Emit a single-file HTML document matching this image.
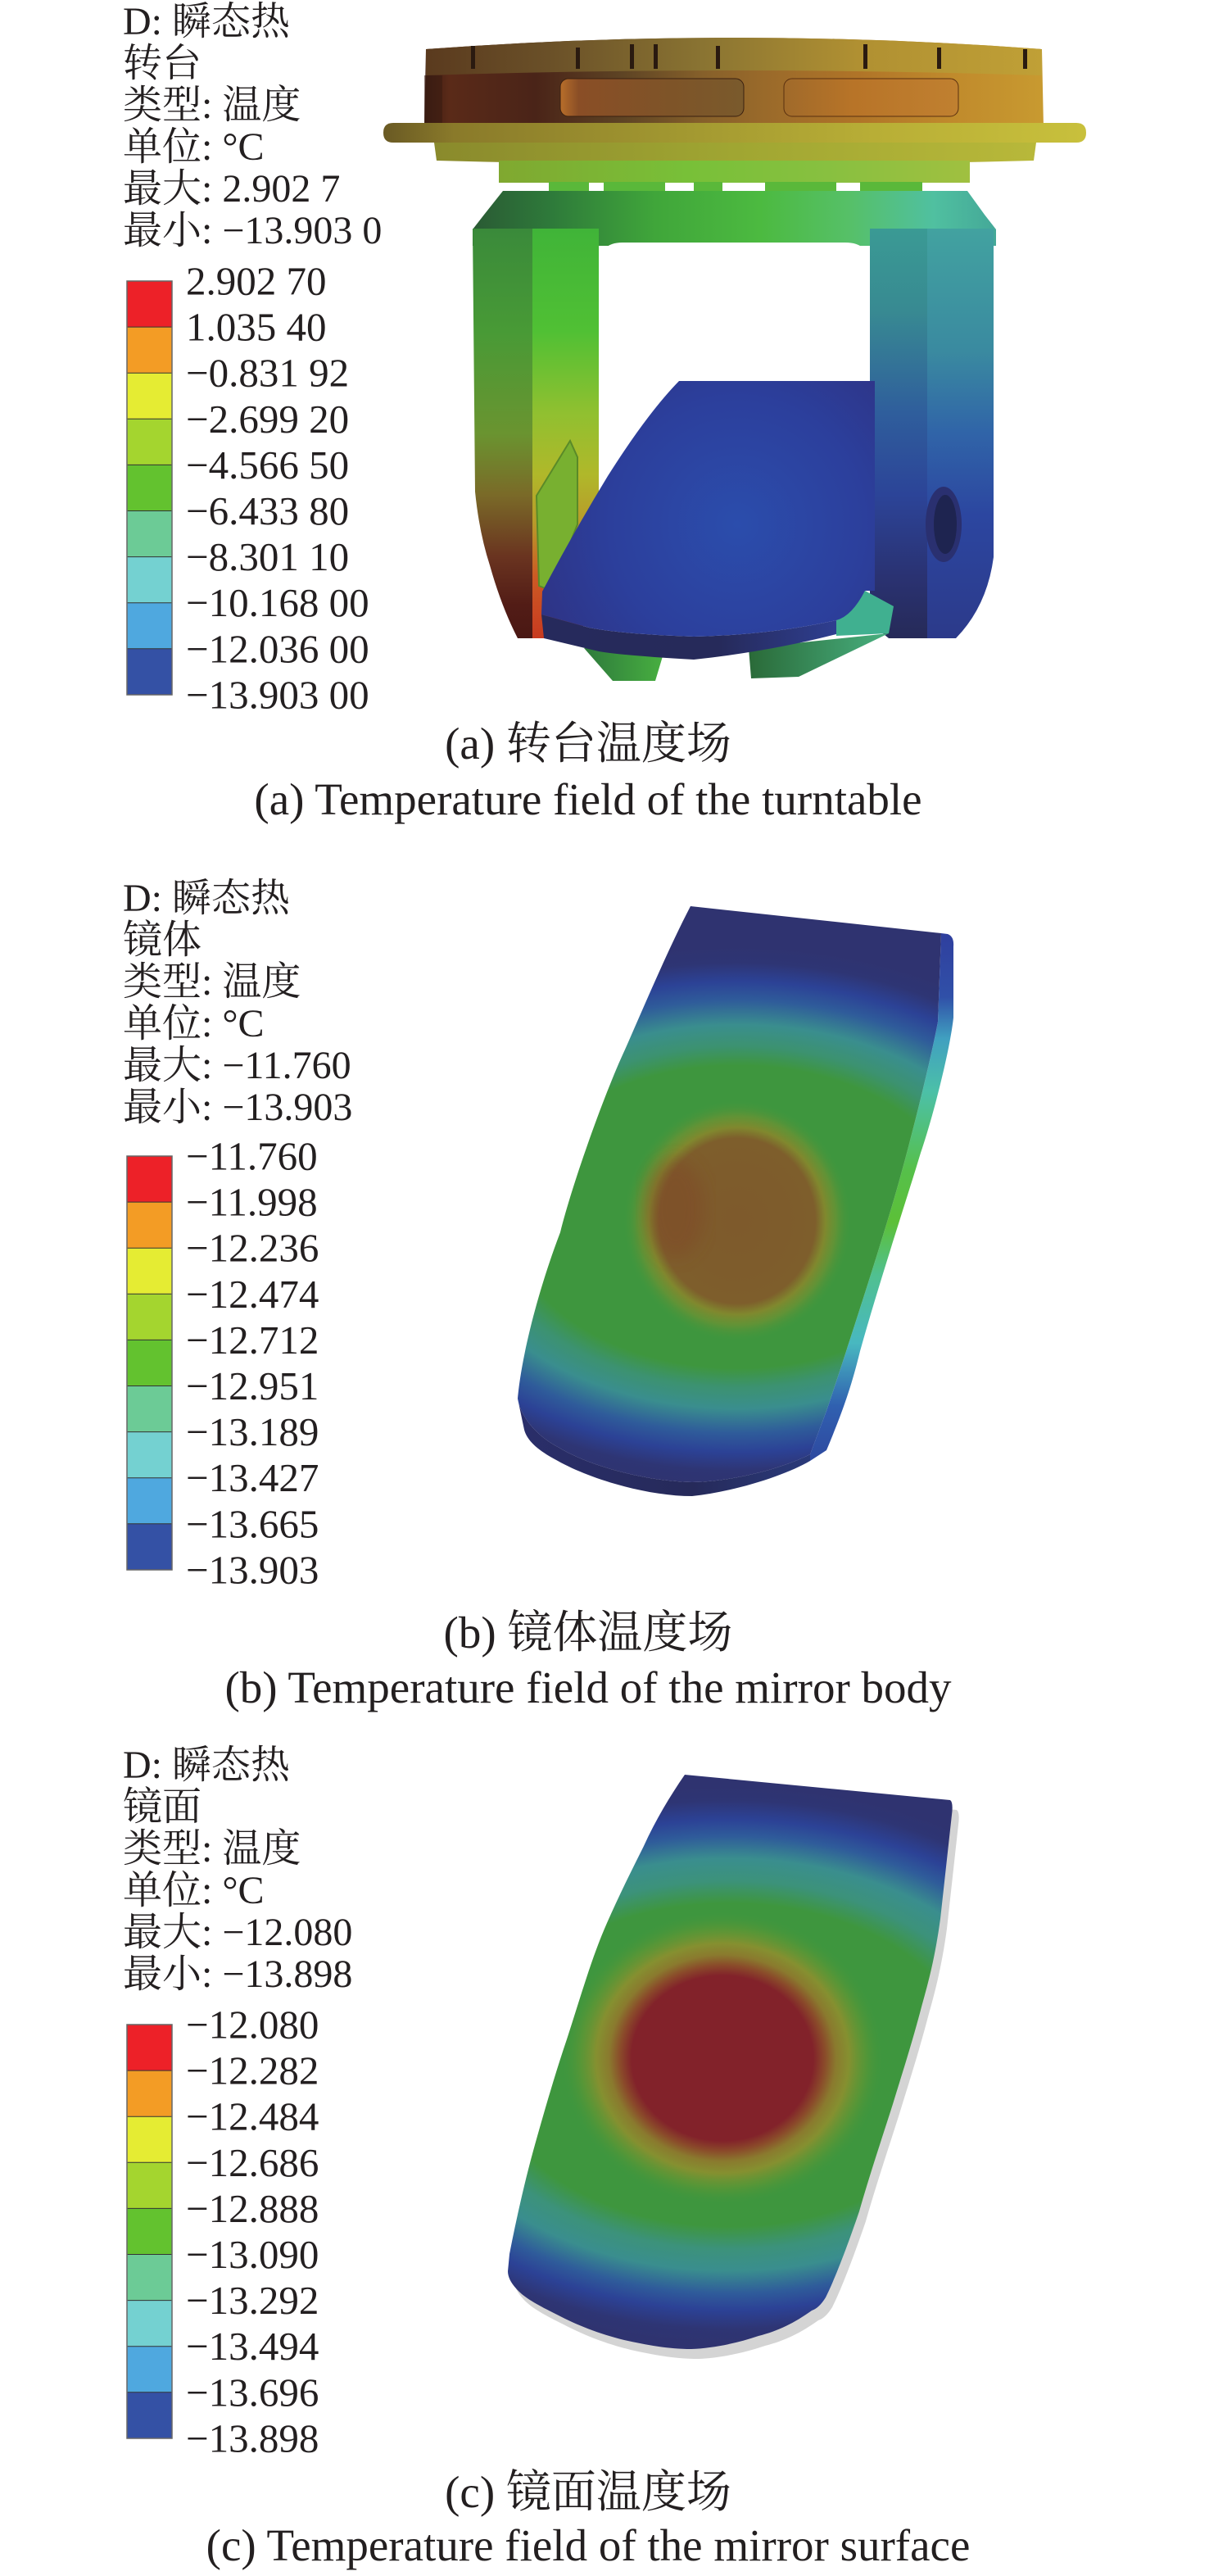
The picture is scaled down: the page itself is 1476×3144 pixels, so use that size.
<!DOCTYPE html>
<html><head><meta charset="utf-8"><style>
html,body{margin:0;padding:0;background:#fff;}
svg{display:block}
text{font-family:"Liberation Serif","Noto Serif CJK SC",serif;fill:#231f20;}
</style></head><body>
<svg width="1476" height="3144" viewBox="0 0 1476 3144" xmlns="http://www.w3.org/2000/svg">
<defs>
<linearGradient id="gRing" gradientUnits="userSpaceOnUse" x1="518" y1="0" x2="1274" y2="0">
<stop offset="0" stop-color="#3a1c12"/><stop offset="0.04" stop-color="#5a2a18"/><stop offset="0.18" stop-color="#4a2418"/><stop offset="0.32" stop-color="#5e4424"/><stop offset="0.45" stop-color="#86602a"/><stop offset="0.55" stop-color="#9a6a2a"/><stop offset="0.7" stop-color="#b07428"/><stop offset="0.85" stop-color="#c08a2c"/><stop offset="1" stop-color="#c89a30"/>
</linearGradient>
<linearGradient id="gRingTop" gradientUnits="userSpaceOnUse" x1="518" y1="0" x2="1274" y2="0">
<stop offset="0" stop-color="#5a3a1e"/><stop offset="0.2" stop-color="#6a5028"/><stop offset="0.45" stop-color="#8a7432"/><stop offset="0.7" stop-color="#b09032"/><stop offset="1" stop-color="#c0a036"/>
</linearGradient>
<linearGradient id="gRecL" gradientUnits="userSpaceOnUse" x1="684" y1="0" x2="908" y2="0">
<stop offset="0" stop-color="#b86e2a"/><stop offset="0.1" stop-color="#8a4e26"/><stop offset="0.6" stop-color="#7e5428"/><stop offset="1" stop-color="#7a5a2c"/>
</linearGradient>
<linearGradient id="gRecR" gradientUnits="userSpaceOnUse" x1="957" y1="0" x2="1170" y2="0">
<stop offset="0" stop-color="#a06a2a"/><stop offset="0.4" stop-color="#b87428"/><stop offset="1" stop-color="#c08030"/>
</linearGradient>
<linearGradient id="gFlange" gradientUnits="userSpaceOnUse" x1="469" y1="0" x2="1324" y2="0">
<stop offset="0" stop-color="#6a5a24"/><stop offset="0.1" stop-color="#8a7a2a"/><stop offset="0.4" stop-color="#a09630"/><stop offset="0.7" stop-color="#b8ae36"/><stop offset="1" stop-color="#c8c03c"/>
</linearGradient>
<linearGradient id="gFlange2" gradientUnits="userSpaceOnUse" x1="530" y1="0" x2="1265" y2="0">
<stop offset="0" stop-color="#8a8a2c"/><stop offset="0.5" stop-color="#a0a632"/><stop offset="1" stop-color="#b8b83a"/>
</linearGradient>
<linearGradient id="gNeck" gradientUnits="userSpaceOnUse" x1="609" y1="0" x2="1184" y2="0">
<stop offset="0" stop-color="#80a830"/><stop offset="0.4" stop-color="#78c038"/><stop offset="0.7" stop-color="#88c040"/><stop offset="1" stop-color="#a0c040"/>
</linearGradient>
<linearGradient id="gYoke" gradientUnits="userSpaceOnUse" x1="577" y1="0" x2="1216" y2="0">
<stop offset="0" stop-color="#2a5a34"/><stop offset="0.15" stop-color="#2e7a3a"/><stop offset="0.35" stop-color="#40a63a"/><stop offset="0.55" stop-color="#4cba40"/><stop offset="0.72" stop-color="#56c068"/><stop offset="0.88" stop-color="#50c0a0"/><stop offset="1" stop-color="#44a898"/>
</linearGradient>
<linearGradient id="gLArmOut" gradientUnits="userSpaceOnUse" x1="0" y1="279" x2="0" y2="779">
<stop offset="0" stop-color="#3a8a3a"/><stop offset="0.25" stop-color="#489a36"/><stop offset="0.5" stop-color="#6a9430"/><stop offset="0.65" stop-color="#7a6a28"/><stop offset="0.8" stop-color="#6a3420"/><stop offset="0.92" stop-color="#521c16"/><stop offset="1" stop-color="#4a1814"/>
</linearGradient>
<linearGradient id="gLArmIn" gradientUnits="userSpaceOnUse" x1="0" y1="279" x2="0" y2="779">
<stop offset="0" stop-color="#40b438"/><stop offset="0.25" stop-color="#50c034"/><stop offset="0.45" stop-color="#90c030"/><stop offset="0.6" stop-color="#b0b82a"/><stop offset="0.72" stop-color="#b89a2a"/><stop offset="0.85" stop-color="#cc5a24"/><stop offset="1" stop-color="#c83a20"/>
</linearGradient>
<linearGradient id="gRArmF" gradientUnits="userSpaceOnUse" x1="0" y1="279" x2="0" y2="779">
<stop offset="0" stop-color="#3a9a94"/><stop offset="0.2" stop-color="#388a92"/><stop offset="0.45" stop-color="#2f5e9c"/><stop offset="0.65" stop-color="#2c4498"/><stop offset="0.85" stop-color="#2a3272"/><stop offset="1" stop-color="#262a58"/>
</linearGradient>
<linearGradient id="gRArmS" gradientUnits="userSpaceOnUse" x1="0" y1="279" x2="0" y2="779">
<stop offset="0" stop-color="#42a2a0"/><stop offset="0.3" stop-color="#3a8aa0"/><stop offset="0.5" stop-color="#3064a8"/><stop offset="0.7" stop-color="#2c46a0"/><stop offset="1" stop-color="#2c3a8a"/>
</linearGradient>
<radialGradient id="gMirA" gradientUnits="userSpaceOnUse" cx="900" cy="640" r="260">
<stop offset="0" stop-color="#2b4dac"/><stop offset="0.6" stop-color="#2c3f9c"/><stop offset="1" stop-color="#2e3486"/>
</radialGradient>
<linearGradient id="gMirAEdge" gradientUnits="userSpaceOnUse" x1="661" y1="0" x2="1021" y2="0">
<stop offset="0" stop-color="#262a5c"/><stop offset="0.6" stop-color="#262a5a"/><stop offset="1" stop-color="#2e3e90"/>
</linearGradient>
<linearGradient id="gFootL" gradientUnits="userSpaceOnUse" x1="713" y1="0" x2="812" y2="0">
<stop offset="0" stop-color="#2e7a3c"/><stop offset="1" stop-color="#48b040"/>
</linearGradient>
<linearGradient id="gFootR" gradientUnits="userSpaceOnUse" x1="914" y1="0" x2="1085" y2="0">
<stop offset="0" stop-color="#2a6a38"/><stop offset="1" stop-color="#48b080"/>
</linearGradient>

<!-- mirror b -->
<radialGradient id="gBandB" gradientUnits="userSpaceOnUse" cx="900" cy="1485" r="330" gradientTransform="translate(900 1485) scale(1.5 1) translate(-900 -1485)">
<stop offset="0" stop-color="#3e963e"/><stop offset="0.56" stop-color="#3e963e"/><stop offset="0.63" stop-color="#3c9270"/><stop offset="0.71" stop-color="#3a8e8e"/><stop offset="0.8" stop-color="#2f5c9a"/><stop offset="0.87" stop-color="#2c4296"/><stop offset="0.94" stop-color="#2e3574"/><stop offset="1" stop-color="#2f3370"/>
</radialGradient>
<radialGradient id="gHotB" gradientUnits="userSpaceOnUse" cx="900" cy="1490" r="140" gradientTransform="translate(900 1490) scale(1 1.06) translate(-900 -1490)">
<stop offset="0" stop-color="#7e5a2c"/><stop offset="0.4" stop-color="#7e5c2c"/><stop offset="0.68" stop-color="#7e5e2c"/><stop offset="0.77" stop-color="#80882e"/><stop offset="0.86" stop-color="#6a9234" stop-opacity="0.8"/><stop offset="1" stop-color="#3e963e" stop-opacity="0"/>
</radialGradient>
<linearGradient id="gSideB" gradientUnits="userSpaceOnUse" x1="0" y1="1140" x2="0" y2="1780">
<stop offset="0" stop-color="#2f3f9e"/><stop offset="0.12" stop-color="#3050a8"/><stop offset="0.2" stop-color="#40a0c0"/><stop offset="0.3" stop-color="#4cc0a8"/><stop offset="0.45" stop-color="#56c04a"/><stop offset="0.55" stop-color="#5cc038"/><stop offset="0.65" stop-color="#50c090"/><stop offset="0.78" stop-color="#48b8c0"/><stop offset="0.9" stop-color="#3060b0"/><stop offset="1" stop-color="#2e4aa0"/>
</linearGradient>
<linearGradient id="gBotB" gradientUnits="userSpaceOnUse" x1="632" y1="0" x2="989" y2="0">
<stop offset="0" stop-color="#2a2e6a"/><stop offset="0.6" stop-color="#262a5a"/><stop offset="1" stop-color="#2a3a7a"/>
</linearGradient>

<!-- mirror c -->
<radialGradient id="gBandC" gradientUnits="userSpaceOnUse" cx="890" cy="2520" r="340" gradientTransform="translate(890 2520) scale(1.5 1) translate(-890 -2520)">
<stop offset="0" stop-color="#3e963e"/><stop offset="0.58" stop-color="#3e963e"/><stop offset="0.66" stop-color="#3c927a"/><stop offset="0.74" stop-color="#3a8e8e"/><stop offset="0.82" stop-color="#2f5c9a"/><stop offset="0.88" stop-color="#2c4296"/><stop offset="0.95" stop-color="#2e3574"/><stop offset="1" stop-color="#2f3370"/>
</radialGradient>
<radialGradient id="gHotC" gradientUnits="userSpaceOnUse" cx="882" cy="2512" r="180" gradientTransform="translate(882 2512) scale(1.1 1) translate(-882 -2512)">
<stop offset="0" stop-color="#82222a"/><stop offset="0.56" stop-color="#82222a"/><stop offset="0.63" stop-color="#8a4a2a"/><stop offset="0.7" stop-color="#8a7a2e"/><stop offset="0.78" stop-color="#859030"/><stop offset="0.88" stop-color="#609634" stop-opacity="0.7"/><stop offset="1" stop-color="#3e963e" stop-opacity="0"/>
</radialGradient>

<clipPath id="clipB"><path d="M843,1106 L1149,1139 L1145,1247 C1135,1300 1110,1400 1091,1465 C1075,1520 1030,1660 1009,1722 L989,1775 C960,1790 900,1808 845,1809 C790,1808 720,1790 681,1766 C655,1752 636,1730 632,1707 C636,1660 655,1580 684,1504 C700,1440 740,1330 763,1281 C790,1220 815,1160 843,1106 Z"/></clipPath>
<clipPath id="clipC"><path id="pC" d="M836,2166 L1160,2197 Q1164,2200 1162,2215 L1148,2342 C1140,2400 1130,2430 1123,2457 C1110,2505 1100,2535 1090,2568 C1075,2615 1060,2660 1049,2699 C1035,2740 1020,2780 1008,2804 Q1000,2817 991,2820 C970,2835 950,2845 926,2851 C900,2860 870,2866 844,2867 C815,2867 790,2862 762,2856 C730,2848 705,2838 680,2825 C660,2815 640,2805 630,2793 Q620,2782 620,2772 L622,2751 C630,2710 640,2665 651,2625 C665,2575 678,2530 692,2489 C708,2440 722,2390 741,2347 C755,2315 770,2285 786,2253 C800,2222 818,2192 836,2166 Z"/></clipPath>
<filter id="blur8" x="-20%" y="-20%" width="140%" height="140%"><feGaussianBlur stdDeviation="10"/></filter>
</defs>

<!-- ================= PANEL A ================= -->
<g font-size="48">
<text x="150" y="42">D: 瞬态热</text>
<text x="150" y="93">转台</text>
<text x="150" y="144">类型: 温度</text>
<text x="150" y="195">单位: °C</text>
<text x="150" y="246">最大: 2.902 7</text>
<text x="150" y="297">最小: −13.903 0</text>
</g>
<g id="cbarA">
<rect x="155" y="343" width="55" height="56.1" fill="#ed2128"/>
<rect x="155" y="399.1" width="55" height="56.1" fill="#f39c25"/>
<rect x="155" y="455.2" width="55" height="56.1" fill="#e5ec33"/>
<rect x="155" y="511.3" width="55" height="56.1" fill="#a4d52f"/>
<rect x="155" y="567.4" width="55" height="56.1" fill="#63c22f"/>
<rect x="155" y="623.5" width="55" height="56.1" fill="#6ccb96"/>
<rect x="155" y="679.6" width="55" height="56.1" fill="#74d1d1"/>
<rect x="155" y="735.7" width="55" height="56.1" fill="#4fa8df"/>
<rect x="155" y="791.8" width="55" height="56.1" fill="#3451a5"/>
<g stroke="#333" stroke-width="1"><line x1="155" y1="399.1" x2="210" y2="399.1"/><line x1="155" y1="455.2" x2="210" y2="455.2"/><line x1="155" y1="511.3" x2="210" y2="511.3"/><line x1="155" y1="567.4" x2="210" y2="567.4"/><line x1="155" y1="623.5" x2="210" y2="623.5"/><line x1="155" y1="679.6" x2="210" y2="679.6"/><line x1="155" y1="735.7" x2="210" y2="735.7"/><line x1="155" y1="791.8" x2="210" y2="791.8"/></g>
<rect x="155" y="343" width="55" height="505" fill="none" stroke="#666" stroke-width="1.5"/>
</g>
<g font-size="49">
<text x="227" y="359.5">2.902 70</text>
<text x="227" y="415.6">1.035 40</text>
<text x="227" y="471.7">−0.831 92</text>
<text x="227" y="527.8">−2.699 20</text>
<text x="227" y="583.9">−4.566 50</text>
<text x="227" y="640">−6.433 80</text>
<text x="227" y="696.1">−8.301 10</text>
<text x="227" y="752.2">−10.168 00</text>
<text x="227" y="808.3">−12.036 00</text>
<text x="227" y="864.4">−13.903 00</text>
</g>

<!-- turntable -->
<g id="turntable">
<path d="M520,60 Q896,32 1272,60 L1274,156 L518,156 Z" fill="url(#gRing)"/>
<path d="M520,60 Q896,32 1272,60 L1272,92 Q896,80 520,92 Z" fill="url(#gRingTop)"/>
<path d="M518,92 L540,92 L540,156 L518,156 Z" fill="#3a1c12" opacity="0.6"/>
<g fill="#2a1a10">
<rect x="575" y="56" width="5" height="28"/><rect x="703" y="58" width="5" height="26"/><rect x="769" y="54" width="5" height="30"/><rect x="798" y="54" width="5" height="30"/><rect x="874" y="56" width="5" height="28"/><rect x="1054" y="54" width="5" height="30"/><rect x="1144" y="58" width="5" height="26"/><rect x="1249" y="60" width="5" height="24"/>
</g>
<rect x="684" y="96" width="224" height="46" rx="10" fill="url(#gRecL)" stroke="#3a2010" stroke-width="1"/>
<rect x="957" y="96" width="213" height="46" rx="10" fill="url(#gRecR)" stroke="#5a3010" stroke-width="1"/>
<path d="M480,150 L1314,150 Q1326,150 1326,162 Q1326,174 1314,174 L480,174 Q468,174 468,162 Q468,150 480,150 Z" fill="url(#gFlange)"/>
<path d="M530,174 L1265,174 L1262,196 Q896,206 533,196 Z" fill="url(#gFlange2)"/>
<rect x="609" y="196" width="575" height="27" fill="url(#gNeck)"/>
<g fill="#5ab83a"><rect x="670" y="222" width="49" height="13"/><rect x="737" y="222" width="75" height="13"/><rect x="847" y="222" width="35" height="13"/><rect x="934" y="222" width="87" height="13"/><rect x="1050" y="222" width="76" height="13"/></g>
<path d="M614,233 L1181,233 L1202,262 L1216,280 L1216,300 L577,300 L577,280 L591,262 Z" fill="url(#gYoke)"/>
<path d="M577,279 L650,279 L650,779 L632,779 Q612,740 598,690 Q585,650 580,600 Z" fill="url(#gLArmOut)"/>
<path d="M650,279 L731,279 L731,740 L700,779 L650,779 Z" fill="url(#gLArmIn)"/>
<path d="M1132,279 L1213,279 L1213,680 Q1205,740 1167,779 L1132,779 Z" fill="url(#gRArmS)"/>
<path d="M1062,279 L1132,279 L1132,779 L1085,779 L1062,760 Z" fill="url(#gRArmF)"/>
<ellipse cx="1152" cy="640" rx="22" ry="46" fill="#2a3070"/>
<ellipse cx="1154" cy="640" rx="14" ry="36" fill="#1e2450"/>
<path d="M760,296 L1032,296 Q1062,296 1062,326 L1062,745 L731,745 L731,326 Q731,296 760,296 Z" fill="#fff"/>
<path d="M655,605 L696,538 L705,558 L705,640 L673,721 L658,715 Z" fill="#78b030" stroke="#5a8a28" stroke-width="2"/>
<path d="M1021,757 L1056,721 L1091,740 L1085,773 L1021,776 Z" fill="#40b090"/>
<path d="M713,791 L812,791 L800,831 L748,831 Z" fill="url(#gFootL)"/>
<path d="M914,791 L1085,773 L975,826 L917,828 Z" fill="url(#gFootR)"/>
<path d="M661,750 L719,766 Q760,774 847,777 Q940,775 1021,757 L1021,774 Q940,795 847,805 Q760,800 731,795 L664,779 Z" fill="url(#gMirAEdge)"/>
<path d="M829,465 L1068,465 L1068,721 L1056,721 Q1040,752 1021,757 Q940,775 847,777 Q760,774 719,766 L661,750 L662,722 Q700,650 742,581 Q790,505 829,465 Z" fill="url(#gMirA)"/>
</g>

<g font-size="55" text-anchor="middle">
<text x="718" y="926">(a) 转台温度场</text>
<text x="718" y="994">(a) Temperature field of the turntable</text>
</g>

<!-- ================= PANEL B ================= -->
<g font-size="48">
<text x="150" y="1112">D: 瞬态热</text>
<text x="150" y="1163">镜体</text>
<text x="150" y="1214">类型: 温度</text>
<text x="150" y="1265">单位: °C</text>
<text x="150" y="1316">最大: −11.760</text>
<text x="150" y="1367">最小: −13.903</text>
</g>
<g>
<rect x="155" y="1411" width="55" height="56.1" fill="#ed2128"/>
<rect x="155" y="1467.1" width="55" height="56.1" fill="#f39c25"/>
<rect x="155" y="1523.2" width="55" height="56.1" fill="#e5ec33"/>
<rect x="155" y="1579.3" width="55" height="56.1" fill="#a4d52f"/>
<rect x="155" y="1635.4" width="55" height="56.1" fill="#63c22f"/>
<rect x="155" y="1691.5" width="55" height="56.1" fill="#6ccb96"/>
<rect x="155" y="1747.6" width="55" height="56.1" fill="#74d1d1"/>
<rect x="155" y="1803.7" width="55" height="56.1" fill="#4fa8df"/>
<rect x="155" y="1859.8" width="55" height="56.1" fill="#3451a5"/>
<g stroke="#333" stroke-width="1"><line x1="155" y1="1467.1" x2="210" y2="1467.1"/><line x1="155" y1="1523.2" x2="210" y2="1523.2"/><line x1="155" y1="1579.3" x2="210" y2="1579.3"/><line x1="155" y1="1635.4" x2="210" y2="1635.4"/><line x1="155" y1="1691.5" x2="210" y2="1691.5"/><line x1="155" y1="1747.6" x2="210" y2="1747.6"/><line x1="155" y1="1803.7" x2="210" y2="1803.7"/><line x1="155" y1="1859.8" x2="210" y2="1859.8"/></g>
<rect x="155" y="1411" width="55" height="505" fill="none" stroke="#666" stroke-width="1.5"/>
</g>
<g font-size="49">
<text x="227" y="1427.5">−11.760</text>
<text x="227" y="1483.6">−11.998</text>
<text x="227" y="1539.7">−12.236</text>
<text x="227" y="1595.8">−12.474</text>
<text x="227" y="1651.9">−12.712</text>
<text x="227" y="1708">−12.951</text>
<text x="227" y="1764.1">−13.189</text>
<text x="227" y="1820.2">−13.427</text>
<text x="227" y="1876.3">−13.665</text>
<text x="227" y="1932.4">−13.903</text>
</g>

<!-- mirror b -->
<path d="M1149,1139 L1157,1140 Q1165,1143 1164,1155 L1164,1242 C1160,1280 1140,1360 1124,1407 C1105,1470 1075,1560 1050,1649 C1040,1690 1030,1720 1009,1770 L989,1783 L989,1775 L1009,1722 C1030,1660 1075,1520 1091,1465 C1110,1400 1135,1300 1145,1247 Z" fill="url(#gSideB)"/>
<path d="M632,1707 C636,1730 655,1752 681,1766 C720,1790 790,1808 845,1809 C900,1808 960,1790 989,1775 L989,1783 C960,1800 900,1820 845,1826 C790,1826 720,1805 681,1783 C660,1772 644,1760 640,1745 Z" fill="url(#gBotB)"/>
<g clip-path="url(#clipB)">
<rect x="600" y="1090" width="600" height="760" fill="url(#gBandB)"/>
<rect x="740" y="1330" width="320" height="320" fill="url(#gHotB)"/>
<ellipse cx="825" cy="1475" rx="35" ry="60" fill="#804428" opacity="0.45" filter="url(#blur8)"/>
</g>

<g font-size="55" text-anchor="middle">
<text x="718" y="2011">(b) 镜体温度场</text>
<text x="718" y="2078">(b) Temperature field of the mirror body</text>
</g>

<!-- ================= PANEL C ================= -->
<g font-size="48">
<text x="150" y="2170">D: 瞬态热</text>
<text x="150" y="2221">镜面</text>
<text x="150" y="2272">类型: 温度</text>
<text x="150" y="2323">单位: °C</text>
<text x="150" y="2374">最大: −12.080</text>
<text x="150" y="2425">最小: −13.898</text>
</g>
<g>
<rect x="155" y="2471" width="55" height="56.1" fill="#ed2128"/>
<rect x="155" y="2527.1" width="55" height="56.1" fill="#f39c25"/>
<rect x="155" y="2583.2" width="55" height="56.1" fill="#e5ec33"/>
<rect x="155" y="2639.3" width="55" height="56.1" fill="#a4d52f"/>
<rect x="155" y="2695.4" width="55" height="56.1" fill="#63c22f"/>
<rect x="155" y="2751.5" width="55" height="56.1" fill="#6ccb96"/>
<rect x="155" y="2807.6" width="55" height="56.1" fill="#74d1d1"/>
<rect x="155" y="2863.7" width="55" height="56.1" fill="#4fa8df"/>
<rect x="155" y="2919.8" width="55" height="56.1" fill="#3451a5"/>
<g stroke="#333" stroke-width="1"><line x1="155" y1="2527.1" x2="210" y2="2527.1"/><line x1="155" y1="2583.2" x2="210" y2="2583.2"/><line x1="155" y1="2639.3" x2="210" y2="2639.3"/><line x1="155" y1="2695.4" x2="210" y2="2695.4"/><line x1="155" y1="2751.5" x2="210" y2="2751.5"/><line x1="155" y1="2807.6" x2="210" y2="2807.6"/><line x1="155" y1="2863.7" x2="210" y2="2863.7"/><line x1="155" y1="2919.8" x2="210" y2="2919.8"/></g>
<rect x="155" y="2471" width="55" height="505" fill="none" stroke="#666" stroke-width="1.5"/>
</g>
<g font-size="49">
<text x="227" y="2487.5">−12.080</text>
<text x="227" y="2543.6">−12.282</text>
<text x="227" y="2599.7">−12.484</text>
<text x="227" y="2655.8">−12.686</text>
<text x="227" y="2711.9">−12.888</text>
<text x="227" y="2768">−13.090</text>
<text x="227" y="2824.1">−13.292</text>
<text x="227" y="2880.2">−13.494</text>
<text x="227" y="2936.3">−13.696</text>
<text x="227" y="2992.4">−13.898</text>
</g>

<!-- mirror c -->
<use href="#pC" transform="translate(8 12)" fill="#d4d4d4"/>
<g clip-path="url(#clipC)">
<rect x="600" y="2150" width="600" height="740" fill="url(#gBandC)"/>
<rect x="640" y="2310" width="480" height="410" fill="url(#gHotC)"/>
</g>

<g font-size="55" text-anchor="middle">
<text x="718" y="3060">(c) 镜面温度场</text>
<text x="718" y="3125">(c) Temperature field of the mirror surface</text>
</g>
</svg>
</body></html>
